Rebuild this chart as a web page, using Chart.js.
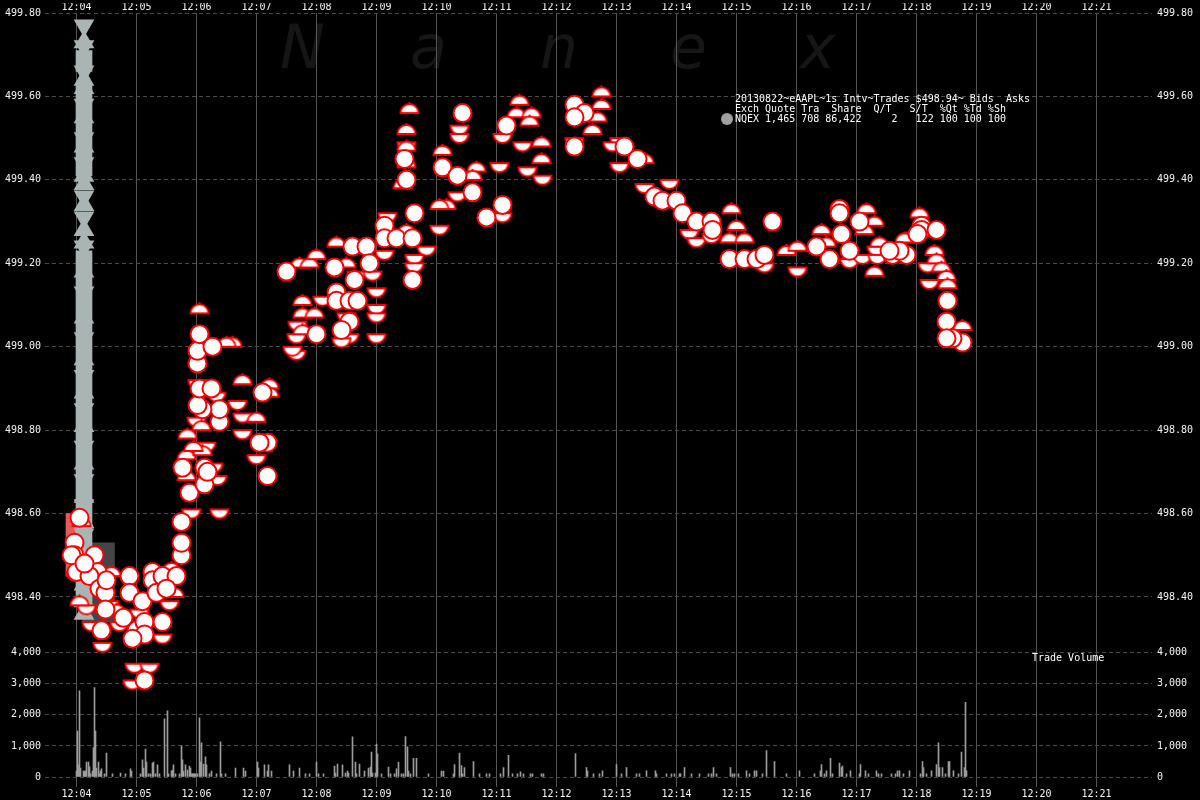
<!DOCTYPE html>
<html>
<head>
<meta charset="utf-8">
<title>eAAPL trades 2013-08-22</title>
<script src="https://cdn.jsdelivr.net/npm/chart.js@4.4.1/dist/chart.umd.min.js"></script>
<style>
  html, body { margin: 0; padding: 0; background: #000; }
  #wrap { position: relative; width: 1200px; height: 800px; overflow: hidden; background: #000; }
  #wm span { position: absolute; top: 12px; font: italic 60px "DejaVu Sans"; color: #161616; }
  #chart { position: absolute; left: 0; top: 0; }
  .txt { position: absolute; font: 10px "DejaVu Sans Mono"; color: #fff; white-space: pre; line-height: 10px; }
  #dot { position: absolute; left: 721px; top: 113px; width: 12px; height: 12px; border-radius: 6px; background: #a0a0a0; }
</style>
</head>
<body>
<div id="wrap">
  <div id="wm">
    <span style="left:280px">N</span><span style="left:410px">a</span><span style="left:540px">n</span><span style="left:670px">e</span><span style="left:800px">x</span>
  </div>
  <canvas id="chart" width="1200" height="800"></canvas>
  <div class="txt" style="left:735px;top:94px">20130822~eAAPL~1s Intv~Trades $498.94~ Bids  Asks
Exch Quote Tra  Share  Q/T   S/T  %Qt %Td %Sh
NQEX 1,465 708 86,422     2   122 100 100 100</div>
  <div id="dot"></div>
  <div class="txt" style="left:1032px;top:653px">Trade Volume</div>
</div>
<script>
(function () {
  // axis labels
  var timeLabels = ["12:04", "12:05", "12:06", "12:07", "12:08", "12:09", "12:10", "12:11", "12:12",
                    "12:13", "12:14", "12:15", "12:16", "12:17", "12:18", "12:19", "12:20", "12:21"];
  var priceTicks = [498.40, 498.60, 498.80, 499.00, 499.20, 499.40, 499.60, 499.80];
  var volTicks = [0, 1000, 2000, 3000, 4000];

  // trades: seconds after 12:04:00, price, marker (c = full, u = upper half, d = lower half)
  var tradeSec = [3, 5, -2, -2, 18, 0, 21, 13, 23, 29, 29, 10, 35, 25, 26, 15, 43, -5, -1, 3,
    8, 30, 33, 40, 47,
    53, 53, 66, 60, 68, 76, 76, 86, 100, 86, 86, 68, 56, 93, 95, 58, 73, 68, 56,
    80, 90, 98, 63,
    105, 105, 105, 115, 113, 110, 128, 128, 141, 106, 110, 126, 111, 130, 143, 143, 143, 126, 120, 121,
    117, 125, 131, 137,
    166, 161, 166, 166, 180, 123, 135, 140, 121, 121, 121, 123, 136, 156, 150, 123,
    191, 183, 180, 191, 193, 193, 186, 220, 226, 226,
    210, 223, 233, 240, 258, 270, 280, 278, 260, 276, 290, 293, 296, 308, 308, 308, 311, 320, 330, 336,
    350, 338, 338, 338, 336, 226, 221, 220, 216, 238, 240, 246, 260, 260, 273, 281, 300, 300, 300, 300,
    273, 265, 273, 270, 265,
    333, 330, 330, 330, 328, 330, 330, 326, 386, 383, 383, 366, 366, 381, 400, 396, 381, 396, 370, 363,
    363, 410, 426, 426, 423, 426, 430, 440, 443, 455, 453, 446, 465, 465, 466, 451,
    498, 508, 498, 525, 525, 521, 516, 498, 498, 543, 536, 548, 543, 561, 568, 568, 593, 578, 586, 600,
    606, 620, 613, 620, 635, 636, 635, 655, 660, 653, 668, 696, 653, 668, 680, 688, 688, 710, 721, 721, 740,
    763, 763, 790, 783, 798, 745, 765, 788, 740, 750, 753, 773, 773, 800, 786, 801, 798, 816, 830, 830,
    823, 845, 845, 860, 843, 858, 860, 865, 870, 871, 871, 870, 886, 886, 876, 870, 851, 853, 803, 813,
    828, 841];
  var tradePx = [498.59, 498.57, 498.53, 498.50, 498.50, 498.46, 498.46, 498.45, 498.42, 498.41, 498.37, 498.38,
    498.45, 498.32, 498.29, 498.34, 498.34, 498.50, 498.46, 498.38,
    498.48, 498.44, 498.39, 498.36, 498.35,
    498.45, 498.41, 498.39, 498.32, 498.34, 498.46, 498.44, 498.45, 498.45, 498.34, 498.31, 498.31, 498.30,
    498.39, 498.46, 498.24, 498.24, 498.20, 498.20,
    498.41, 498.42, 498.40, 498.37,
    498.50, 498.53, 498.58, 498.61, 498.65, 498.68, 498.71, 498.67, 498.69, 498.71, 498.73, 498.74, 498.78,
    498.77, 498.61, 498.82, 498.85, 498.85, 498.83, 498.86,
    498.75, 498.80, 498.70, 498.72,
    498.84, 498.87, 498.91, 498.80, 498.82, 498.90, 498.90, 498.89, 498.92, 498.96, 498.99, 499.03, 499.00,
    499.00, 499.00, 499.08,
    498.77, 498.77, 498.74, 498.69, 498.90, 498.88, 498.89, 498.99, 499.03, 499.07,
    499.18, 499.19, 499.19, 499.21, 499.19, 499.19, 499.18, 499.16, 499.24, 499.24, 499.24, 499.20, 499.18,
    499.29, 499.26, 499.23, 499.32, 499.26, 499.27, 499.26,
    499.24, 499.22, 499.20, 499.32, 499.16, 499.10, 499.06, 499.03, 499.00, 499.07, 499.03, 499.12, 499.13,
    499.11, 499.11, 499.11, 499.14, 499.10, 499.08, 499.03,
    499.06, 499.04, 499.03, 499.08, 499.02,
    499.56, 499.51, 499.49, 499.47, 499.45, 499.43, 499.40, 499.38, 499.56, 499.53, 499.51, 499.46, 499.43,
    499.41, 499.42, 499.40, 499.37, 499.37, 499.33, 499.33,
    499.29, 499.31, 499.34, 499.32, 499.44, 499.51, 499.53, 499.55, 499.58, 499.55, 499.53, 499.49, 499.48,
    499.44, 499.41, 499.43,
    499.58, 499.56, 499.55, 499.60, 499.57, 499.54, 499.51, 499.50, 499.48, 499.50, 499.49, 499.48, 499.44,
    499.45, 499.44, 499.39, 499.40, 499.36, 499.35, 499.35,
    499.32, 499.30, 499.28, 499.26, 499.30, 499.28, 499.27, 499.32, 499.28, 499.25, 499.25, 499.30, 499.21,
    499.21, 499.21, 499.22, 499.20, 499.22, 499.23, 499.19, 499.23,
    499.33, 499.32, 499.32, 499.30, 499.29, 499.27, 499.27, 499.27, 499.24, 499.24, 499.21, 499.23, 499.21,
    499.24, 499.22, 499.22, 499.17, 499.22, 499.22, 499.25,
    499.23, 499.29, 499.28, 499.28, 499.31, 499.22, 499.20, 499.18, 499.16, 499.14, 499.11, 499.06, 499.04,
    499.01, 499.02, 499.02, 499.20, 499.16, 499.24, 499.23,
    499.25, 499.27];
  var tradeKind = ["c", "u", "c", "c", "c", "c", "c", "c", "c", "c", "c", "d", "u", "c", "d", "d", "d", "c", "d", "u",
    "c", "c", "d", "u", "c",
    "c", "c", "c", "c", "c", "c", "c", "c", "c", "c", "d", "c", "c", "d", "u", "d", "d", "c", "d",
    "c", "c", "u", "d",
    "c", "c", "c", "d", "c", "u", "c", "c", "d", "c", "u", "u", "u", "d", "d", "c", "c", "c", "d", "c",
    "u", "u", "c", "d",
    "d", "d", "u", "d", "u", "c", "c", "d", "d", "c", "c", "c", "c", "u", "u", "u",
    "c", "c", "d", "c", "u", "u", "c", "d", "u", "u",
    "c", "u", "u", "u", "c", "u", "d", "c", "u", "c", "c", "c", "d", "c", "c", "d", "d", "c", "u", "c",
    "d", "d", "d", "c", "c", "u", "d", "d", "d", "u", "c", "d", "c", "c", "c", "c", "d", "d", "d", "d",
    "c", "c", "d", "d", "d",
    "u", "u", "d", "u", "c", "u", "c", "u", "c", "d", "d", "u", "c", "c", "u", "u", "d", "c", "u", "u",
    "d", "c", "c", "d", "d", "d", "c", "u", "u", "u", "u", "d", "u", "u", "d", "d",
    "c", "c", "c", "u", "u", "u", "u", "d", "c", "d", "d", "c", "d", "c", "u", "d", "d", "c", "c", "c",
    "c", "c", "d", "d", "c", "c", "d", "u", "u", "u", "u", "c", "c", "c", "c", "c", "d", "u", "u", "d", "u",
    "c", "c", "u", "c", "u", "u", "c", "u", "c", "u", "c", "c", "d", "d", "d", "d", "u", "c", "c", "u",
    "c", "c", "c", "c", "u", "u", "u", "u", "u", "u", "c", "c", "u", "c", "c", "c", "d", "d", "u", "c",
    "u", "c"];

  // trade volume per second
  var volSec = [0, 1, 2, 3, 4, 7, 8, 9, 10, 12, 13, 14, 16, 17, 18, 19, 20, 22, 23, 24, 25, 28, 30, 36, 44, 49,
    54, 55, 64, 66, 67, 69, 70, 72, 74, 76, 77, 79, 81, 83, 88, 91, 92, 95, 96, 97, 99, 103, 105, 106, 107,
    109, 111, 113, 114, 115, 116, 117, 118, 119, 121, 123, 124, 125, 127, 129, 130, 133, 135, 140, 144, 145,
    149, 159, 167, 169, 181, 182, 188, 191, 192, 195, 213, 217, 223, 229, 233, 240, 242, 247, 258, 259, 261,
    266, 269, 271, 272, 276, 279, 280, 283, 288, 292, 294, 295, 296, 299, 300, 301, 305, 312, 314, 318, 320,
    322, 325, 327, 329, 331, 332, 334, 337, 340, 352, 365, 367, 377, 378, 383, 385, 386, 388, 397, 403, 410,
    413, 424, 427, 432, 436, 441, 444, 447, 454, 456, 465, 467, 499, 510, 511, 517, 523, 526, 540, 545, 550,
    560, 563, 570, 579, 580, 590, 595, 598, 603, 604, 608, 615, 623, 632, 635, 637, 640, 654, 656, 658, 662,
    670, 673, 678, 680, 686, 690, 698, 710, 723, 738, 744, 745, 748, 750, 754, 756, 763, 765, 766, 770, 774,
    783, 784, 789, 792, 800, 802, 805, 815, 819, 821, 823, 827, 833, 844, 846, 847, 850, 855, 860, 862, 863,
    866, 869, 872, 873, 877, 882, 885, 888, 889, 890];
  var volVal = [190, 1480, 390, 2770, 290, 190, 190, 190, 480, 480, 330, 100, 190, 940, 2870, 1480, 290, 480,
    100, 190, 260, 100, 770, 100, 130, 100, 260, 190, 100, 550, 290, 900, 480, 100, 100, 450, 480, 100, 390,
    100, 1870, 2130, 100, 190, 220, 390, 100, 100, 1000, 550, 190, 390, 220, 350, 290, 100, 100, 100, 100,
    100, 100, 1900, 480, 1100, 420, 650, 390, 100, 190, 100, 1130, 100, 100, 290, 290, 190, 480, 290, 390,
    190, 390, 190, 390, 190, 290, 100, 100, 480, 100, 100, 350, 130, 420, 390, 130, 190, 130, 1290, 480, 100,
    420, 190, 290, 320, 800, 130, 130, 1060, 740, 100, 320, 100, 100, 260, 480, 100, 100, 1300, 970, 190,
    100, 600, 600, 100, 190, 190, 100, 400, 770, 370, 100, 300, 500, 100, 100, 100, 100, 300, 700, 100, 100,
    170, 100, 100, 100, 100, 100, 750, 300, 190, 100, 100, 200, 400, 100, 300, 100, 100, 200, 200, 100, 100,
    100, 100, 100, 100, 300, 100, 100, 100, 100, 300, 100, 300, 100, 100, 100, 200, 100, 200, 200, 100, 850,
    500, 100, 200, 100, 200, 400, 100, 200, 600, 100, 450, 300, 350, 100, 200, 100, 400, 200, 100, 200, 100,
    100, 100, 100, 200, 200, 100, 200, 100, 500, 300, 100, 200, 400, 1100, 300, 300, 100, 500, 500, 200, 100,
    800, 300, 2400, 200];

  // quotes at the open of the window
  var quoteSec = 7.5;
  var quoteBands = [[499.66, 499.71], [499.41, 499.63], [498.38, 499.23]];
  var quoteUpPx = [499.73, 499.64, 499.62, 499.55, 499.48, 499.41, 499.39, 499.34, 499.28, 499.25, 499.18,
    499.07, 498.97, 498.89, 498.81, 498.72, 498.64, 498.58, 498.51, 498.43, 498.39, 498.36];
  var quoteDownPx = [499.77, 499.72, 499.66, 499.58, 499.50, 499.44, 499.36, 499.31, 499.24, 499.13, 499.02,
    498.93, 498.85, 498.76, 498.68, 498.62, 498.55, 498.47];
  var bidBox = { sec: -2, px: [498.45, 498.60] };
  var askBox = { sec: 22, px: [498.34, 498.53] };

  // axis ranges: price panel on top (630 px), volume panel below (147 px)
  var xMin = -31.5, xMax = 1075.5;
  var pMin = 498.2955, pMax = 499.80;
  var vMin = -320, vMax = 4384;

  var font = { family: "DejaVu Sans Mono", size: 10 };

  function halfMarker(top) {
    var c = document.createElement("canvas");
    c.width = 24; c.height = 24;
    var g = c.getContext("2d");
    g.beginPath();
    if (top) g.arc(12, 12, 9, Math.PI, 2 * Math.PI);
    else g.arc(12, 12, 9, 0, Math.PI);
    g.closePath();
    g.fillStyle = "#ffffff";
    g.fill();
    g.lineWidth = 2;
    g.strokeStyle = "#ff0000";
    g.stroke();
    if (top) { g.fillStyle = "#ff0000"; g.fillRect(11, 1, 2, 2); }
    return c;
  }

  function pick(k) {
    var out = [];
    for (var i = 0; i < tradeSec.length; i++) {
      if (tradeKind[i] === k) out.push({ x: tradeSec[i], y: tradePx[i] });
    }
    return out;
  }

  var volData = volSec.map(function (s, i) { return { x: s, y: volVal[i] }; });
  var upQuotes = quoteUpPx.map(function (p) { return { x: quoteSec, y: p }; });
  var downQuotes = quoteDownPx.map(function (p) { return { x: quoteSec, y: p }; });
  var bands = quoteBands.map(function (b) { return { x: quoteSec, y: b }; });

  function noPad(s) { s.paddingTop = 0; s.paddingBottom = 0; s.paddingLeft = 0; s.paddingRight = 0; }

  function yAxis(pos, w, pad, min, max, ticks, weight, fmt) {
    return {
      type: "linear", position: pos, min: min, max: max,
      stack: "panels", stackWeight: weight,
      afterFit: function (s) { s.width = w; noPad(s); },
      afterBuildTicks: function (s) { s.ticks = ticks.map(function (v) { return { value: v }; }); },
      ticks: { color: "#f4f4f4", font: font, padding: pad, callback: fmt },
      grid: { display: pos === "left", color: "#4a4a4a", lineWidth: 1, drawTicks: false },
      border: { display: false, dash: [4, 3] }
    };
  }
  function fmtPrice(v) { return v.toFixed(2); }
  function fmtVol(v) { return v.toLocaleString("en-US"); }

  function timeAxis(pos, h, pad, grid) {
    return {
      type: "linear", position: pos, min: xMin, max: xMax, offset: false,
      afterFit: function (s) { s.height = h; noPad(s); },
      afterBuildTicks: function (s) { s.ticks = timeLabels.map(function (t, i) { return { value: i * 60 }; }); },
      ticks: { color: "#f4f4f4", font: font, padding: pad, maxRotation: 0, autoSkip: false,
               callback: function (v, i) { return timeLabels[i]; } },
      grid: { display: grid, offset: false, color: "#555555", lineWidth: 1, drawTicks: false },
      border: { display: false }
    };
  }

  new Chart(document.getElementById("chart"), {
    type: "scatter",
    data: {
      datasets: [
        { type: "bar", data: [{ x: bidBox.sec, y: bidBox.px }], backgroundColor: "#e35b5b",
          barThickness: 17, grouped: false, yAxisID: "y", xAxisID: "x", order: 20, clip: false },
        { type: "bar", data: [{ x: askBox.sec, y: askBox.px }], backgroundColor: "#454545",
          barThickness: 32, grouped: false, yAxisID: "y", xAxisID: "x", order: 19, clip: false },
        { type: "bar", data: bands, backgroundColor: "#a9b5b5",
          barThickness: 16, grouped: false, yAxisID: "y", xAxisID: "x", order: 18, clip: false },
        { data: upQuotes, pointStyle: "triangle", pointRadius: 12, pointBorderWidth: 0, clip: false,
          backgroundColor: "#a9b5b5", borderColor: "#a9b5b5", yAxisID: "y", xAxisID: "x", order: 17 },
        { data: downQuotes, pointStyle: "triangle", pointRotation: 180, pointRadius: 12, pointBorderWidth: 0,
          clip: false, backgroundColor: "#a9b5b5", borderColor: "#a9b5b5", yAxisID: "y", xAxisID: "x", order: 16 },
        { type: "bar", data: volData, backgroundColor: "#9c9c9c",
          barThickness: 1, grouped: false, yAxisID: "yv", xAxisID: "x", order: 15 },
        { data: pick("d"), pointStyle: halfMarker(false), pointRadius: 12, clip: false,
          yAxisID: "y", xAxisID: "x", order: 3 },
        { data: pick("u"), pointStyle: halfMarker(true), pointRadius: 12, clip: false,
          yAxisID: "y", xAxisID: "x", order: 2 },
        { data: pick("c"), pointStyle: "circle", pointRadius: 9, pointBorderWidth: 2, clip: false,
          backgroundColor: "#ffffff", borderColor: "#ff0000", yAxisID: "y", xAxisID: "x", order: 1 }
      ]
    },
    options: {
      responsive: false,
      animation: false,
      events: [],
      layout: { padding: 0 },
      plugins: { legend: { display: false }, tooltip: { enabled: false } },
      scales: {
        x: timeAxis("bottom", 13, 1, true),
        xt: timeAxis("top", 10, 0, false),
        yv: yAxis("left", 45, 4, vMin, vMax, volTicks, 147, fmtVol),
        y: yAxis("left", 45, 4, pMin, pMax, priceTicks, 630, fmtPrice),
        yr: yAxis("right", 48, 5, pMin, pMax, priceTicks, 630, fmtPrice),
        yvr: yAxis("right", 48, 5, vMin, vMax, volTicks, 147, fmtVol)
      }
    }
  });
})();
</script>
</body>
</html>
